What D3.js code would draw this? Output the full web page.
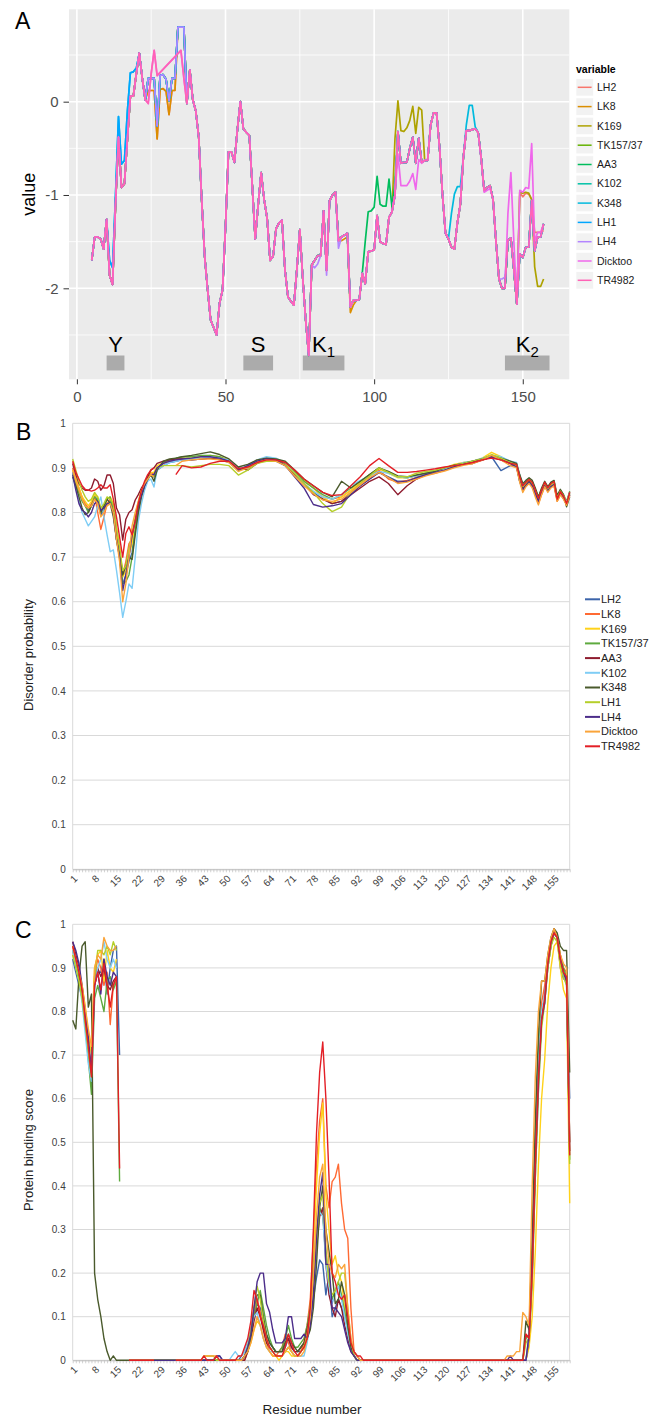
<!DOCTYPE html>
<html>
<head>
<meta charset="utf-8">
<title>Hydropathy, disorder and binding profiles</title>
<script src="https://d3js.org/d3.v7.min.js"></script>
<style>
  body { margin: 0; background: #fff; font-family: "Liberation Sans", Arial, sans-serif; }
  svg { display: block; }
</style>
</head>
<body>
<div id="chart"></div>
<script>
// ---------------- data ----------------
var seriesNames = ["LH2", "LK8", "K169", "TK157/37", "AA3", "K102", "K348", "LH1", "LH4", "Dicktoo", "TR4982"];
var ggColors = ["#F8766D", "#DB8E00", "#AEA200", "#64B200", "#00BD5C", "#00C1A7", "#00BADE", "#00A6FF", "#B385FF", "#EF67EB", "#FF63B6"];
var xlColors = ["#3C64AA", "#FF6A33", "#FFD21A", "#5EAA3F", "#8E1B2E", "#7FCDF5", "#4A5A2C", "#B5CF2A", "#4C2D8A", "#FAA43A", "#E31F26"];

// panel A : residues 5..157, profile shared by most lines
var aResidues = d3.range(5, 158);
var aCommon = [
  -1.70, -1.45, -1.45, -1.47, -1.58, -1.26, -1.86, -1.96, -1.10, -0.38,
  -0.92, -0.88, -0.40, 0.06, 0.06, 0.30, 0.52, 0.25, 0.02, 0.25,
  0.25, 0.25, -0.26, 0.28, 0.29, 0.24, 0.01, 0.25, 0.25, 0.80,
  0.80, 0.80, -0.02, 0.34, 0.02, -0.10, -0.38, -1.06, -1.66, -2.02,
  -2.34, -2.42, -2.50, -2.16, -2.02, -1.34, -0.54, -0.54, -0.65, -0.30,
  0.00, -0.29, -0.33, -0.36, -0.90, -1.47, -1.10, -0.76, -1.05, -1.25,
  -1.70, -1.66, -1.36, -1.30, -1.27, -1.80, -2.09, -2.14, -2.18, -1.80,
  -1.37, -1.90, -2.35, -2.72, -1.75, -1.70, -1.65, -1.65, -1.17, -1.81,
  -1.06, -1.00, -0.97, -1.49, -1.45, -1.43, -1.41, -2.20, -2.13, -2.13,
  -2.12, -1.84, -1.95, -1.61, -1.60, -1.59, -1.22, -1.50, -1.52, -1.53,
  -1.24, -1.18, -1.00, -0.32, -0.66, -0.65, -0.65, -0.50, -0.38, -0.66,
  -0.39, -0.65, -0.63, -0.63, -0.25, -0.12, -0.12, -0.49, -1.00, -1.41,
  -1.47, -1.56, -1.58, -1.30, -1.10, -0.60, -0.31, -0.31, -0.30, -0.29,
  -0.33, -0.60, -0.95, -0.92, -0.90, -1.05, -1.50, -1.90, -2.00, -2.00,
  -1.49, -1.46, -1.80, -2.17, -1.63, -1.67, -1.56, -1.56, -1.06, -1.60,
  -1.45, -1.45, -1.31
];
// places where a line leaves the shared profile: [residue, value]
var aBlueDiff = [[11, -1.70], [12, -1.78], [13, -1.00], [14, -0.16], [15, -0.67], [16, -0.63], [17, -0.10], [18, 0.31], [19, 0.32], [20, 0.36]];
var aK348Diff = [[124, -1.41], [125, -1.47], [126, -1.20], [127, -0.99], [128, -0.91], [129, -0.91], [130, -0.60], [131, -0.25], [132, -0.04], [133, -0.04], [134, -0.27]];
var aSalmonDiff = [[24, 0.12], [25, 0.12], [26, 0.12], [27, -0.40], [28, 0.13], [29, 0.14], [30, 0.11], [31, -0.14], [32, 0.12], [33, 0.12]];
var aGapDiff = [[24, -0.02], [25, 0.30], [26, 0.55], [27, 0.28], [28, null], [29, null], [30, null], [31, null], [32, null], [33, null], [34, null], [35, 0.55], [36, 0.25]];
var aAA3Diff = [[96, -1.84], [97, -1.50], [98, -1.18], [99, -1.17], [100, -1.13], [101, -0.80], [102, -1.10], [103, -1.12], [104, -1.12], [105, -0.83], [106, -1.13], [107, -0.88]];
var aK169Diff = [[107, -0.40], [108, 0.01], [109, -0.31], [110, -0.32], [111, -0.28], [112, -0.20], [113, -0.05], [114, -0.34], [115, -0.06], [116, -0.09],
  [149, -0.97], [150, -0.98], [151, -0.97], [152, -0.98], [153, -1.05], [154, -1.77], [155, -1.98], [156, -1.98], [157, -1.90]];
var aDicktooDiff = [[108, -0.56], [109, -0.90], [110, -0.90], [111, -0.90], [112, -0.85], [113, -0.77], [114, -0.94], [115, -0.62], [116, -0.66],
  [136, -0.62], [137, -0.97], [138, -0.95], [139, -0.93], [145, -1.20], [146, -0.76], [147, -1.50],
  [149, -0.95], [150, -0.97], [151, -0.92], [152, -0.93], [153, -0.45], [154, -1.50], [155, -1.40], [156, -1.40]];
var aLH2Diff = [[149, -0.97], [150, -1.02], [151, -0.98], [152, -0.99], [153, -1.05], [154, -1.40], [155, -1.40], [156, -1.40], [157, -1.38]];
var aLK8Diff = [[89, -1.49], [90, -1.47], [91, -1.45], [92, -2.26], [93, -2.18]];
var aLH4Diff = [[80, -1.78], [81, -1.74], [84, -1.86], [88, -1.57], [143, -1.90], [144, -1.88]];
var aDiffs = [
  [aSalmonDiff, aLH2Diff], [aSalmonDiff, aLK8Diff], [aK169Diff], [], [aAA3Diff], [],
  [aBlueDiff, aK348Diff], [aBlueDiff], [aLH4Diff], [aGapDiff, aDicktooDiff], [aGapDiff]
];
var aXTicks = [0, 50, 100, 150];
var aXMinor = [25, 75, 125];
var aYTicks = [0, -1, -2];
var aYMinor = [0.5, -0.5, -1.5, -2.5];
var motifLabels = ["Y", "S", "K", "K"];
var motifSubs = ["", "", "1", "2"];
var motifStart = [10, 56, 76, 144];
var motifEnd = [16, 66, 90, 159];

// panel B : disorder probability
var bResidues = [1, 2, 3, 4, 5, 6, 7, 8, 9, 10, 11, 12, 13, 14, 15, 16, 17, 18, 19, 20, 21, 22, 23, 24, 25, 26, 27, 28,
  30, 32, 34, 36,
  39, 42, 45, 48, 51, 54, 57, 60, 63, 66, 69, 72, 75, 78, 81, 84, 87, 90, 93, 96, 99, 102, 105, 108, 111, 114, 117, 120, 123, 126, 129, 132, 135, 138, 141,
  143, 144, 145, 146, 147, 148, 149, 150, 151, 152, 153, 154, 155, 156, 157, 158, 159, 160];
var bLH2 = [.89, .87, .85, .83, .815, .805, .815, .835, .825, .795, .805, .82, .825, .81, .75, .70, .64, .66, .69, .71, .77, .81, .84, .86, .875, .885, .88, .895,
  .905, .912, .915, .918,
  .918, .92, .922, .92, .912, .895, .90, .912, .918, .915, .905, .885, .865, .845, .83, .82, .825, .845, .86, .875, .89, .88, .87, .87, .878, .885, .89, .895, .902, .908, .91, .918, .925, .894, .905,
  .905, .87, .855, .862, .87, .86, .84, .825, .845, .86, .85, .86, .862, .83, .845, .835, .82, .84];
var bLK8 = [.90, .875, .855, .835, .82, .81, .82, .84, .80, .762, .79, .82, .83, .815, .76, .72, .66, .69, .73, .74, .78, .815, .845, .865, .88, .89, .885, .90,
  .91, .915, .918, .922,
  .92, .92, .922, .92, .915, .897, .903, .915, .92, .92, .91, .89, .87, .855, .835, .83, .835, .85, .865, .882, .895, .875, .868, .872, .878, .885, .888, .895, .903, .908, .91, .917, .925, .92, .91,
  .905, .875, .85, .86, .868, .86, .838, .82, .84, .858, .848, .858, .86, .825, .84, .832, .818, .838];
var bK169 = [.895, .875, .855, .835, .825, .815, .825, .84, .835, .805, .815, .83, .835, .82, .765, .725, .655, .67, .705, .73, .775, .815, .845, .865, .88, .89, .89, .905,
  .912, .918, .92, .922,
  .922, .925, .928, .925, .918, .895, .905, .918, .922, .92, .912, .892, .872, .855, .835, .82, .835, .85, .868, .885, .898, .888, .878, .878, .882, .888, .893, .90, .908, .912, .915, .922, .935, .925, .912,
  .91, .88, .858, .868, .875, .868, .85, .83, .85, .865, .852, .862, .866, .832, .848, .838, .822, .845];
var bTK157 = [.885, .865, .845, .825, .815, .80, .815, .835, .83, .80, .81, .83, .835, .80, .74, .70, .64, .645, .66, .70, .76, .805, .84, .86, .875, .885, .88, .895,
  .912, .918, .922, .925,
  .925, .928, .928, .925, .915, .893, .905, .915, .92, .918, .91, .89, .87, .855, .84, .83, .84, .855, .87, .885, .90, .89, .88, .878, .883, .888, .893, .90, .905, .91, .915, .92, .928, .92, .912,
  .908, .882, .86, .87, .876, .87, .852, .835, .852, .868, .855, .865, .87, .835, .85, .84, .825, .848];
var bAA3 = [.91, .885, .865, .855, .85, .85, .855, .875, .87, .85, .86, .884, .884, .865, .81, .795, .738, .785, .80, .806, .828, .84, .855, .865, .88, .895, .90, .91,
  .915, .918, .92, .92,
  .918, .92, .922, .92, .915, .90, .895, .91, .918, .918, .91, .885, .865, .84, .83, .82, .825, .84, .855, .87, .88, .865, .84, .86, .875, .885, .89, .895, .905, .91, .912, .918, .925, .918, .91,
  .902, .875, .852, .862, .87, .862, .845, .828, .848, .862, .85, .86, .865, .83, .845, .835, .82, .845];
var bK102 = [.88, .855, .83, .80, .785, .77, .78, .79, .815, .835, .79, .75, .712, .716, .671, .62, .565, .60, .64, .63, .70, .78, .82, .85, .87, .875, .857, .895,
  .905, .912, .915, .918,
  .92, .922, .925, .922, .918, .898, .905, .918, .925, .922, .912, .888, .865, .848, .835, .83, .84, .86, .872, .882, .892, .888, .88, .878, .882, .888, .892, .898, .905, .912, .915, .922, .928, .925, .915,
  .912, .885, .862, .872, .876, .87, .85, .832, .85, .866, .855, .862, .868, .835, .848, .838, .822, .845];
var bK348 = [.88, .86, .835, .81, .795, .80, .815, .83, .825, .80, .815, .83, .82, .79, .74, .71, .66, .68, .70, .695, .75, .80, .835, .86, .875, .885, .87, .895,
  .915, .92, .922, .925,
  .928, .932, .936, .93, .92, .902, .908, .918, .922, .92, .915, .895, .875, .86, .845, .835, .87, .855, .87, .885, .90, .892, .882, .88, .884, .888, .892, .90, .906, .91, .915, .92, .928, .922, .915,
  .91, .885, .865, .872, .878, .872, .855, .835, .855, .87, .858, .868, .872, .838, .852, .84, .813, .835];
var bLH1 = [.92, .895, .87, .85, .835, .825, .83, .845, .835, .81, .82, .835, .83, .82, .765, .72, .67, .68, .72, .75, .79, .825, .85, .865, .875, .885, .885, .90,
  .905, .905, .905, .905,
  .902, .905, .908, .908, .905, .884, .895, .91, .915, .915, .908, .888, .865, .845, .82, .802, .812, .845, .865, .882, .90, .89, .88, .88, .888, .892, .895, .90, .905, .91, .915, .92, .93, .922, .912,
  .905, .878, .858, .866, .874, .866, .848, .83, .848, .865, .852, .862, .868, .832, .848, .838, .82, .842];
var bLH4 = [.885, .85, .82, .805, .80, .79, .80, .82, .825, .805, .81, .82, .82, .80, .74, .70, .625, .66, .70, .75, .78, .815, .84, .86, .875, .885, .885, .90,
  .91, .915, .918, .92,
  .922, .925, .925, .922, .915, .895, .905, .915, .92, .918, .905, .88, .855, .818, .812, .815, .82, .84, .86, .875, .89, .878, .868, .87, .878, .885, .89, .895, .902, .908, .912, .918, .925, .918, .91,
  .902, .87, .85, .86, .868, .86, .842, .825, .845, .86, .848, .858, .862, .828, .842, .832, .818, .84];
var bDicktoo = [.895, .87, .85, .83, .815, .81, .815, .83, .82, .79, .80, .815, .82, .80, .74, .69, .60, .64, .70, .77, .80, .825, .85, .865, .875, .885, .88, null,
  null, null, .905, .915,
  .918, .92, .92, .918, .912, .892, .90, .912, .918, .915, .905, .882, .86, .842, .828, .825, .83, .845, .862, .878, .89, .878, .865, .868, .875, .882, .888, .893, .90, .906, .91, .918, .928, .918, .905,
  .90, .868, .845, .858, .865, .855, .835, .817, .84, .858, .845, .855, .86, .825, .84, .83, .816, .838];
var bTR4982 = [.915, .89, .875, .86, .852, .85, .848, .85, .855, .862, .855, .855, .862, .83, .79, .745, .70, .753, .768, .75, .78, .82, .85, .87, .885, .895, .90, null,
  null, null, .885, .905,
  .90, .902, .91, .915, .915, .898, .902, .912, .918, .918, .912, .895, .875, .86, .845, .838, .84, .86, .88, .905, .921, .905, .89, .89, .892, .895, .898, .902, .905, .908, .912, .918, .922, .918, .91,
  .908, .88, .86, .868, .874, .868, .85, .832, .85, .868, .855, .865, .869, .83, .847, .837, .82, .845];
var bSeries = [bLH2, bLK8, bK169, bTK157, bAA3, bK102, bK348, bLH1, bLH4, bDicktoo, bTR4982];

// panel C : protein binding score, [residue, score]; null = no value
var cLH2 = [[1, .92], [2, .89], [3, .86], [4, .83], [5, .77], [6, .70], [7, .63], [8, .86], [9, .89], [10, .89], [11, .92], [12, .84], [13, .90], [14, .94], [15, .95], [16, .70], [17, null],
  [19, 0], [46, 0], [47, .01], [48, .01], [49, 0], [54, 0], [55, .01], [56, .02], [57, .04], [58, .07], [59, .11], [60, .13], [61, .12], [62, .09], [63, .06], [64, .04], [65, .03], [66, .02], [67, .02], [68, .02], [69, .03], [70, .05], [71, .03], [72, .02], [73, .02], [74, .02], [75, .03], [76, .05], [77, .09], [78, .14], [79, .19], [80, .23], [81, .22], [82, .15], [83, .20], [84, .10], [85, .12], [86, .14], [87, .12], [88, .10], [89, .07], [90, .04], [91, .02], [92, .01], [93, 0],
  [146, 0], [147, .04], [148, .18], [149, .42], [150, .62], [151, .78], [152, .82], [153, .90], [154, .95], [155, .98], [156, .97], [157, .90], [158, .875], [159, .87], [160, .60]];
var cLK8 = [[1, .95], [2, .92], [3, .88], [4, .84], [5, .78], [6, .72], [7, .66], [8, .88], [9, .92], [10, .90], [11, .86], [12, .89], [13, .77], [14, .86], [15, .87], [16, null],
  [19, 0], [56, 0], [57, .02], [58, .05], [59, .10], [60, .14], [61, .11], [62, .07], [63, .04], [64, .02], [65, .01], [66, .01], [67, .02], [68, .03], [69, .06], [70, .04], [71, .02], [72, .01], [73, .01], [74, .02], [75, .04], [76, .08], [77, .14], [78, .28], [79, .45], [80, .55], [81, .60], [82, .40], [83, .35], [84, .41], [85, .42], [86, .45], [87, .36], [88, .30], [89, .28], [90, .12], [91, .02], [92, .01], [93, 0],
  [145, 0], [146, .06], [147, .05], [148, .22], [149, .50], [150, .70], [151, .82], [152, .86], [153, .92], [154, .96], [155, .99], [156, .97], [157, .93], [158, .90], [159, .89], [160, .50]];
var cK169 = [[1, .93], [2, .91], [3, .89], [4, .86], [5, .81], [6, .75], [7, .70], [8, .90], [9, .93], [10, .94], [11, .87], [12, .94], [13, .90], [14, .89], [15, .92], [16, null],
  [19, 0], [55, 0], [56, .01], [57, .02], [58, .04], [59, .07], [60, .09], [61, .08], [62, .05], [63, .03], [64, .02], [65, .01], [66, .01], [67, 0], [68, .01], [69, .02], [70, .02], [71, .01], [72, .01], [73, .01], [74, .02], [75, .03], [76, .06], [77, .12], [78, .25], [79, .40], [80, .52], [81, .59], [82, .38], [83, .30], [84, .22], [85, .24], [86, .20], [87, .18], [88, .12], [89, .06], [90, .03], [91, .01], [92, 0],
  [146, 0], [147, .03], [148, .10], [149, .25], [150, .45], [151, .60], [152, .69], [153, .82], [154, .90], [155, .95], [156, .96], [157, .90], [158, .85], [159, .83], [160, .36]];
var cTK157 = [[1, .94], [2, .91], [3, .88], [4, .84], [5, .77], [6, .69], [7, .61], [8, .83], [9, .86], [10, .83], [11, .80], [12, .87], [13, .88], [14, .85], [15, .87], [16, .41], [17, null],
  [19, 0], [55, 0], [56, .01], [57, .03], [58, .06], [59, .10], [60, .13], [61, .16], [62, .12], [63, .08], [64, .05], [65, .03], [66, .02], [67, .02], [68, .03], [69, .05], [70, .08], [71, .05], [72, .03], [73, .03], [74, .04], [75, .05], [76, .08], [77, .12], [78, .22], [79, .30], [80, .35], [81, .33], [82, .25], [83, .18], [84, .14], [85, .16], [86, .18], [87, .15], [88, .11], [89, .07], [90, .03], [91, .01], [92, 0],
  [145, 0], [146, .05], [147, .06], [148, .25], [149, .52], [150, .72], [151, .80], [152, .83], [153, .90], [154, .95], [155, .98], [156, .97], [157, .93], [158, .90], [159, .88], [160, .46]];
var cAA3 = [[1, .96], [2, .93], [3, .90], [4, .85], [5, .79], [6, .72], [7, .67], [8, .87], [9, .90], [10, .88], [11, .90], [12, .86], [13, .85], [14, .87], [15, .88], [16, null],
  [19, 0], [56, 0], [57, .02], [58, .05], [59, .09], [60, .12], [61, .10], [62, .07], [63, .04], [64, .03], [65, .02], [66, .02], [67, .02], [68, .02], [69, .04], [70, .05], [71, .03], [72, .02], [73, .02], [74, .03], [75, .04], [76, .07], [77, .11], [78, .18], [79, .26], [80, .33], [81, .35], [82, .22], [83, .15], [84, .12], [85, .10], [86, .14], [87, .12], [88, .08], [89, .05], [90, .02], [91, .01], [92, 0],
  [146, 0], [147, .05], [148, .20], [149, .45], [150, .65], [151, .78], [152, .84], [153, .91], [154, .96], [155, .98], [156, .97], [157, .92], [158, .89], [159, .87], [160, .48]];
var cK102 = [[1, .94], [2, .90], [3, .87], [4, .82], [5, .75], [6, .68], [7, .64], [8, .86], [9, .90], [10, .92], [11, .96], [12, .92], [13, .90], [14, .92], [15, .90], [16, null],
  [19, 0], [51, 0], [52, .01], [53, .02], [54, .01], [55, .01], [56, .02], [57, .04], [58, .07], [59, .10], [60, .11], [61, .08], [62, .05], [63, .03], [64, .02], [65, .02], [66, .01], [67, .01], [68, .01], [69, .02], [70, .03], [71, .02], [72, .01], [73, .01], [74, .01], [75, .01], [76, .04], [77, .09], [78, .17], [79, .27], [80, .34], [81, .33], [82, .22], [83, .17], [84, .13], [85, .15], [86, .17], [87, .14], [88, .10], [89, .06], [90, .03], [91, .01], [92, 0],
  [146, 0], [147, .06], [148, .22], [149, .48], [150, .68], [151, .80], [152, .84], [153, .91], [154, .96], [155, .98], [156, .97], [157, .92], [158, .88], [159, .86], [160, .50]];
var cK348 = [[1, .78], [2, .76], [3, .88], [4, .95], [5, .96], [6, .81], [7, .84], [8, .20], [9, .14], [10, .10], [11, .05], [12, .02], [13, 0], [14, .01], [15, 0],
  [55, 0], [56, .01], [57, .02], [58, .05], [59, .12], [60, .15], [61, .15], [62, .10], [63, .06], [64, .04], [65, .03], [66, .02], [67, .02], [68, .02], [69, .04], [70, .06], [71, .04], [72, .03], [73, .02], [74, .03], [75, .04], [76, .05], [77, .07], [78, .12], [79, .22], [80, .35], [81, .40], [82, .30], [83, .25], [84, .20], [85, .13], [86, .14], [87, .18], [88, .15], [89, .08], [90, .03], [91, .01], [92, 0],
  [145, 0], [146, .09], [147, .07], [148, .28], [149, .55], [150, .75], [151, .87], [152, .87], [153, .93], [154, .97], [155, .99], [156, .98], [157, .95], [158, .94], [159, .94], [160, .66]];
var cLH1 = [[1, .93], [2, .90], [3, .87], [4, .83], [5, .77], [6, .71], [7, .65], [8, .88], [9, .94], [10, .94], [11, .93], [12, .95], [13, .93], [14, .96], [15, .94], [16, null],
  [19, 0], [42, 0], [43, .01], [44, .01], [45, .01], [46, .01], [47, 0], [55, 0], [56, .01], [57, .03], [58, .07], [59, .12], [60, .17], [61, .14], [62, .09], [63, .05], [64, .03], [65, .02], [66, .01], [67, .01], [68, .01], [69, .02], [70, .03], [71, .02], [72, .01], [73, .01], [74, .02], [75, .03], [76, .06], [77, .10], [78, .18], [79, .28], [80, .36], [81, .38], [82, .25], [83, .18], [84, .15], [85, .16], [86, .18], [87, .20], [88, .20], [89, .12], [90, .05], [91, .01], [92, 0],
  [145, 0], [146, .04], [147, .05], [148, .18], [149, .42], [150, .62], [151, .76], [152, .82], [153, .90], [154, .95], [155, .97], [156, .96], [157, .91], [158, .88], [159, .86], [160, .45]];
var cLH4 = [[1, .96], [2, .94], [3, .91], [4, .86], [5, .80], [6, .74], [7, .66], [8, .86], [9, .89], [10, .84], [11, .92], [12, .88], [13, .86], [14, .89], [15, .88], [16, null],
  [19, 0], [46, 0], [47, .01], [48, .01], [49, 0], [55, 0], [56, .01], [57, .03], [58, .06], [59, .12], [60, .18], [61, .20], [62, .20], [63, .13], [64, .11], [65, .07], [66, .04], [67, .04], [68, .04], [69, .05], [70, .10], [71, .10], [72, .05], [73, .05], [74, .05], [75, .06], [76, .05], [77, .08], [78, .15], [79, .28], [80, .38], [81, .43], [82, .22], [83, .22], [84, .12], [85, .12], [86, .11], [87, .10], [88, .07], [89, .04], [90, .02], [91, .01], [92, 0],
  [140, 0], [141, .01], [142, 0], [146, 0], [147, .06], [148, .22], [149, .45], [150, .64], [151, .78], [152, .82], [153, .91], [154, .96], [155, .98], [156, .97], [157, .92], [158, .89], [159, .87], [160, .50]];
var cDicktoo = [[1, .95], [2, .92], [3, .89], [4, .86], [5, .81], [6, .76], [7, .72], [8, .90], [9, .93], [10, .92], [11, .97], [12, .95], [13, .94], [14, .94], [15, .95], [16, null],
  [19, 0], [27, 0], [28, null], [34, 0], [42, 0], [43, .01], [44, .01], [45, .01], [46, .01], [47, .01], [48, 0], [55, 0], [56, .01], [57, .02], [58, .04], [59, .07], [60, .10], [61, .08], [62, .05], [63, .03], [64, .02], [65, .01], [66, .01], [67, .01], [68, .01], [69, .02], [70, .03], [71, .02], [72, .01], [73, .01], [74, .01], [75, .02], [76, .05], [77, .10], [78, .20], [79, .33], [80, .42], [81, .45], [82, .30], [83, .22], [84, .20], [85, .19], [86, .22], [87, .21], [88, .22], [89, .12], [90, .05], [91, .02], [92, .01], [93, 0],
  [139, 0], [140, .01], [141, .01], [142, .01], [143, .02], [144, .02], [145, .11], [146, .10], [147, .08], [148, .40], [149, .65], [150, .80], [151, .87], [152, .87], [153, .93], [154, .97], [155, .99], [156, .97], [157, .93], [158, .91], [159, .90], [160, .50]];
var cTR4982 = [[1, .95], [2, .92], [3, .89], [4, .85], [5, .78], [6, .72], [7, .65], [8, .86], [9, .89], [10, .85], [11, .91], [12, .86], [13, .81], [14, .86], [15, .88], [16, .44], [17, null],
  [19, 0], [27, 0], [28, null], [34, 0], [42, 0], [43, .01], [44, 0], [46, 0], [47, .01], [48, 0], [53, 0], [54, .01], [55, .01], [56, .03], [57, .05], [58, .09], [59, .16], [60, .14], [61, .10], [62, .08], [63, .05], [64, .03], [65, .02], [66, .01], [67, .01], [68, .01], [69, .03], [70, .06], [71, .04], [72, .02], [73, .01], [74, .02], [75, .03], [76, .05], [77, .12], [78, .30], [79, .52], [80, .66], [81, .73], [82, .60], [83, .42], [84, .20], [85, .18], [86, .15], [87, .14], [88, .15], [89, .10], [90, .04], [91, .02], [92, .01], [93, .01], [94, 0],
  [145, 0], [146, .06], [147, .05], [148, .20], [149, .45], [150, .65], [151, .78], [152, .83], [153, .91], [154, .96], [155, .98], [156, .97], [157, .92], [158, .89], [159, .88], [160, .47]];
var cSeries = [cLH2, cLK8, cK169, cTK157, cAA3, cK102, cK348, cLH1, cLH4, cDicktoo, cTR4982];

var xlYTicks = [0, 0.1, 0.2, 0.3, 0.4, 0.5, 0.6, 0.7, 0.8, 0.9, 1];
var xlXLabels = [1, 8, 15, 22, 29, 36, 43, 50, 57, 64, 71, 78, 85, 92, 99, 106, 113, 120, 127, 134, 141, 148, 155];

// ---------------- drawing ----------------
var FONT = "'Liberation Sans', Arial, sans-serif";
var svg = d3.select("#chart").append("svg").attr("width", 651).attr("height", 1416);
svg.append("rect").attr("width", 651).attr("height", 1416).attr("fill", "#fff");

function panelLetter(txt, x, y) {
  svg.append("text").attr("x", x).attr("y", y).attr("font-family", FONT)
    .attr("font-size", 23).attr("fill", "#000").text(txt);
}

// ----- panel A (ggplot look) -----
var aL = 69, aR = 569.3, aT = 9.3, aB = 379.3;
var xA = d3.scaleLinear().domain([-2.65, 165.65]).range([aL, aR]);
var yA = d3.scaleLinear().domain([-2.975, 0.99]).range([aB, aT]);
var gA = svg.append("g");
gA.append("rect").attr("x", aL).attr("y", aT).attr("width", aR - aL).attr("height", aB - aT).attr("fill", "#EBEBEB");

gA.selectAll(".vminor").data(aXMinor).enter().append("line")
  .attr("x1", d => xA(d)).attr("x2", d => xA(d)).attr("y1", aT).attr("y2", aB)
  .attr("stroke", "#fff").attr("stroke-width", 0.8);
gA.selectAll(".hminor").data(aYMinor).enter().append("line")
  .attr("x1", aL).attr("x2", aR).attr("y1", d => yA(d)).attr("y2", d => yA(d))
  .attr("stroke", "#fff").attr("stroke-width", 0.8);
gA.selectAll(".vmajor").data(aXTicks).enter().append("line")
  .attr("x1", d => xA(d)).attr("x2", d => xA(d)).attr("y1", aT).attr("y2", aB)
  .attr("stroke", "#fff").attr("stroke-width", 1.6);
gA.selectAll(".hmajor").data(aYTicks).enter().append("line")
  .attr("x1", aL).attr("x2", aR).attr("y1", d => yA(d)).attr("y2", d => yA(d))
  .attr("stroke", "#fff").attr("stroke-width", 1.6);

// motif boxes and labels
var motifG = gA.selectAll(".motif").data(motifLabels).enter().append("g");
motifG.append("rect")
  .attr("x", (d, i) => xA(motifStart[i])).attr("width", (d, i) => xA(motifEnd[i]) - xA(motifStart[i]))
  .attr("y", yA(-2.72)).attr("height", yA(-2.88) - yA(-2.72)).attr("fill", "#ABABAB");
var motifText = motifG.append("text")
  .attr("x", (d, i) => xA((motifStart[i] + motifEnd[i]) / 2)).attr("y", 352)
  .attr("text-anchor", "middle").attr("font-family", FONT).attr("font-size", 22).attr("fill", "#000");
motifText.append("tspan").text(d => d);
motifText.append("tspan").attr("font-size", 15).attr("dy", 5).text((d, i) => motifSubs[i]);

// lines
function aSeriesPoints(i) {
  var vals = aCommon.slice();
  aDiffs[i].forEach(function (diff) {
    diff.forEach(function (p) { vals[p[0] - 5] = p[1]; });
  });
  return aResidues.map((r, k) => [r, vals[k]]).filter(p => p[1] !== null);
}
var lineA = d3.line().x(d => xA(d[0])).y(d => yA(d[1]));
gA.selectAll(".aline").data(seriesNames).enter().append("path")
  .attr("d", (d, i) => lineA(aSeriesPoints(i)))
  .attr("fill", "none").attr("stroke", (d, i) => ggColors[i]).attr("stroke-width", 1.7)
  .attr("stroke-linejoin", "round");

// axes
var axA = gA.append("g").attr("transform", "translate(0," + aB + ")")
  .call(d3.axisBottom(xA).tickValues(aXTicks).tickSize(5).tickSizeOuter(0));
axA.select(".domain").remove();
axA.attr("color", "#333").attr("font-family", FONT).attr("font-size", 15);
axA.selectAll("text").attr("fill", "#4D4D4D").attr("dy", null).attr("y", 22.7);
var ayA = gA.append("g").attr("transform", "translate(" + aL + ",0)")
  .call(d3.axisLeft(yA).tickValues(aYTicks).tickSize(5.5).tickPadding(5).tickSizeOuter(0).tickFormat(d3.format("d")));
ayA.select(".domain").remove();
ayA.attr("color", "#333").attr("font-family", FONT).attr("font-size", 15);
ayA.selectAll("text").attr("fill", "#4D4D4D");
ayA.selectAll("text").text(d => d === 0 ? "0" : "-" + Math.abs(d));

gA.append("text").attr("transform", "translate(35," + ((aT + aB) / 2) + ") rotate(-90)")
  .attr("text-anchor", "middle").attr("font-family", FONT).attr("font-size", 18).attr("fill", "#000").text("value");

// legend A
var legA = gA.append("g");
legA.append("text").attr("x", 576).attr("y", 72.5).attr("font-family", FONT).attr("font-size", 10.5)
  .attr("font-weight", "bold").attr("fill", "#000").text("variable");
var legAItems = legA.selectAll(".li").data(seriesNames).enter().append("g")
  .attr("transform", (d, i) => "translate(576," + (87.3 + i * 19.3) + ")");
legAItems.append("rect").attr("x", 0).attr("y", -8.65).attr("width", 17.3).attr("height", 17.3)
  .attr("fill", "#F2F2F2").attr("stroke", "#fff").attr("stroke-width", 0.6);
legAItems.append("line").attr("x1", 1.7).attr("x2", 15.6).attr("y1", 0).attr("y2", 0)
  .attr("stroke", (d, i) => ggColors[i]).attr("stroke-width", 1.5);
legAItems.append("text").attr("x", 21).attr("dy", "0.35em").attr("font-family", FONT)
  .attr("font-size", 10.5).attr("fill", "#1a1a1a").text(d => d);

panelLetter("A", 15, 29.3);

// ----- panels B and C (spreadsheet look) -----
var pL = 72.7, pR = 569.7;
var xX = d3.scaleLinear().domain([1, 160]).range([pL, pR]);

function xlPanel(top, bottom, series, title, titleY) {
  var y = d3.scaleLinear().domain([0, 1]).range([bottom, top]);
  var g = svg.append("g");
  g.selectAll(".grid").data(xlYTicks).enter().append("line")
    .attr("x1", pL).attr("x2", pR).attr("y1", d => y(d)).attr("y2", d => y(d))
    .attr("stroke", "#D9D9D9").attr("stroke-width", 1);
  g.append("line").attr("x1", pL).attr("x2", pL).attr("y1", top).attr("y2", bottom).attr("stroke", "#D9D9D9");
  g.append("line").attr("x1", pR).attr("x2", pR).attr("y1", top).attr("y2", bottom).attr("stroke", "#D9D9D9");

  var ax = g.append("g").attr("transform", "translate(0," + bottom + ")")
    .call(d3.axisBottom(xX).tickValues(d3.range(1, 161)).tickSize(3).tickSizeOuter(0)
      .tickFormat(d => xlXLabels.indexOf(d) >= 0 ? d : ""));
  ax.attr("color", "#BFBFBF").attr("font-family", FONT).attr("font-size", 10);
  ax.selectAll(".tick line").attr("stroke-width", 0.7);
  ax.selectAll("text").attr("fill", "#404040").attr("y", 0).attr("dy", "0.35em")
    .attr("text-anchor", "end").attr("transform", "translate(2.5,7.5) rotate(-45)");

  var ay = g.append("g").attr("transform", "translate(" + pL + ",0)")
    .call(d3.axisLeft(y).tickValues(xlYTicks).tickSize(0).tickPadding(7)
      .tickFormat(d => d === 0 ? "0" : d === 1 ? "1" : d3.format(".1f")(d)));
  ay.select(".domain").remove();
  ay.attr("font-family", FONT).attr("font-size", 10);
  ay.selectAll("text").attr("fill", "#404040");

  var line = d3.line().defined(d => d[1] !== null).x(d => xX(d[0])).y(d => y(d[1]));
  g.selectAll(".sl").data(series).enter().append("path")
    .attr("d", d => line(d)).attr("fill", "none")
    .attr("stroke", (d, i) => xlColors[i]).attr("stroke-width", 1.4).attr("stroke-linejoin", "round");

  g.append("text").attr("transform", "translate(33," + titleY + ") rotate(-90)")
    .attr("text-anchor", "middle").attr("font-family", FONT).attr("font-size", 13)
    .attr("fill", "#222").text(title);
  return g;
}

var bPoints = bSeries.map(vals => bResidues.map((r, k) => [r, vals[k]]));
xlPanel(423.3, 869.3, bPoints, "Disorder probability", 655);
xlPanel(924.3, 1360.3, cSeries, "Protein binding score", 1150);

// legend B
var legB = svg.append("g").selectAll(".lb").data(seriesNames).enter().append("g")
  .attr("transform", (d, i) => "translate(585," + (599.3 + i * 14.7) + ")");
legB.append("line").attr("x1", 0).attr("x2", 15).attr("stroke", (d, i) => xlColors[i]).attr("stroke-width", 2);
legB.append("text").attr("x", 16).attr("dy", "0.35em").attr("font-family", FONT).attr("font-size", 11)
  .attr("fill", "#222").text(d => d);

svg.append("text").attr("x", 312).attr("y", 1414).attr("text-anchor", "middle")
  .attr("font-family", FONT).attr("font-size", 13.5).attr("fill", "#222").text("Residue number");

panelLetter("B", 16, 440);
panelLetter("C", 15, 938.3);
</script>
</body>
</html>
